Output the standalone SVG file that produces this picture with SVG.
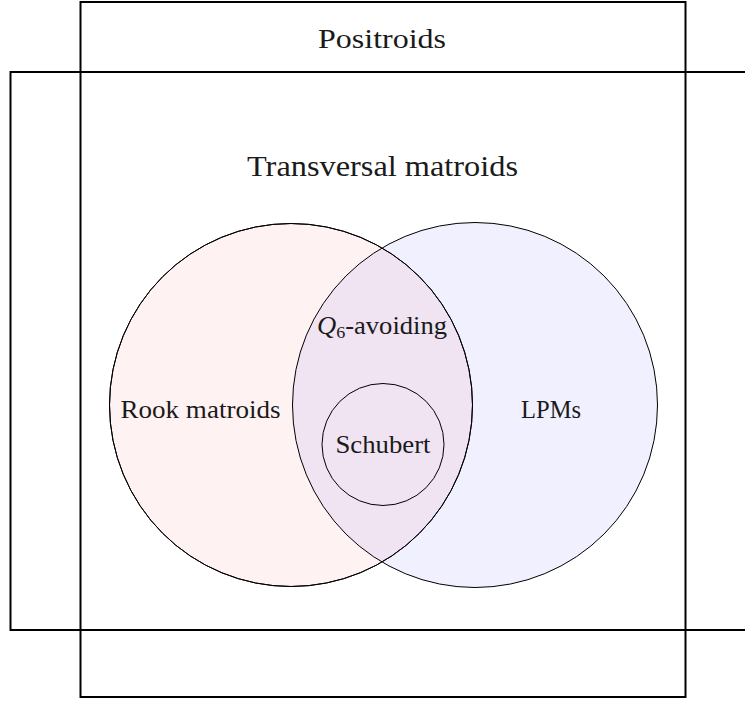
<svg xmlns="http://www.w3.org/2000/svg" width="745" height="704" viewBox="0 0 745 704">
<style>
.box{fill:none;stroke:#000;stroke-width:2}
.c{stroke:#000;stroke-width:1}
text{font-family:"Liberation Serif","DejaVu Serif",serif;fill:#1a1a1a;text-anchor:middle}
</style>
<rect width="745" height="704" fill="#fff"/>
<g id="positroids">
<rect class="box" x="80.5" y="2" width="605" height="695"/>
<text x="382" y="48" font-size="28" textLength="128" lengthAdjust="spacingAndGlyphs">Positroids</text>
</g>
<g id="transversal">
<path class="box" d="M750 72 H10.5 V630 H750"/>
<text x="382.5" y="176" font-size="30" textLength="271" lengthAdjust="spacingAndGlyphs">Transversal matroids</text>
</g>
<g id="rook">
<circle class="c" cx="291" cy="405" r="181.5" fill="#ff0000" fill-opacity="0.05"/>
<text x="200.5" y="418" font-size="25" textLength="160" lengthAdjust="spacingAndGlyphs">Rook matroids</text>
</g>
<g id="lpm">
<circle class="c" cx="475" cy="405" r="182.5" fill="#0000ff" fill-opacity="0.06"/>
<text x="551" y="418" font-size="25" textLength="60" lengthAdjust="spacingAndGlyphs">LPMs</text>
</g>
<g id="q6">
<circle cx="291" cy="405" r="181.5" fill="none" stroke="#000" stroke-width="1"/>
<text x="382" y="334" font-size="25" textLength="130" lengthAdjust="spacingAndGlyphs"><tspan font-style="italic">Q</tspan><tspan font-size="17" dy="4">6</tspan><tspan dy="-4">-avoiding</tspan></text>
</g>
<g id="schubert">
<circle class="c" cx="383" cy="444.5" r="61" fill="none"/>
<text x="383" y="453" font-size="25" textLength="95" lengthAdjust="spacingAndGlyphs">Schubert</text>
</g>
<g id="connectors"/>
</svg>
